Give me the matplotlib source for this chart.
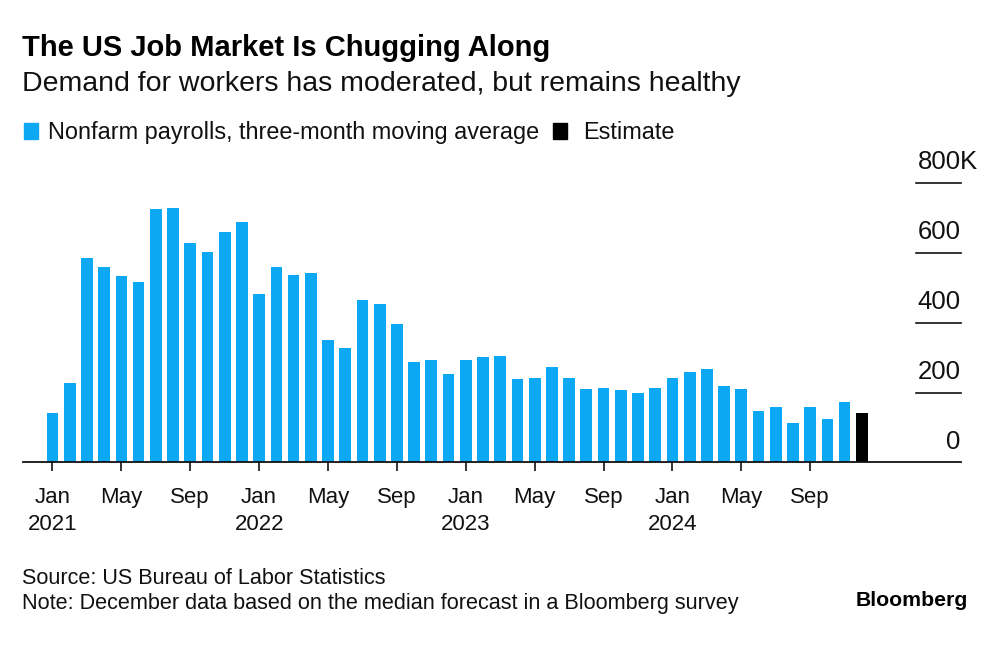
import matplotlib
matplotlib.use("Agg")
import matplotlib.pyplot as plt
from matplotlib.patches import Rectangle

plt.rcParams['font.family'] = ['Liberation Sans', 'DejaVu Sans']

# ---- data ----
years = [2021, 2022, 2023, 2024]
month_names = ["Jan", "Feb", "Mar", "Apr", "May", "Jun",
               "Jul", "Aug", "Sep", "Oct", "Nov", "Dec"]
payrolls_2021 = [141, 228, 586, 559, 534, 517, 724, 729, 629, 603, 658, 687]
payrolls_2022 = [483, 560, 537, 543, 351, 326, 466, 452, 397, 286, 292, 252]
payrolls_2023 = [292, 301, 305, 238, 242, 274, 242, 211, 213, 207, 198, 212]
payrolls_2024 = [242, 260, 267, 218, 211, 147, 159, 114, 159, 123, 173]
estimate_dec_2024 = [142]
y_ticks = [0, 200, 400, 600, 800]
tick_months = ["Jan", "May", "Sep"]

BLUE = "#0ca8f3"
BLACK = "#000000"

values = payrolls_2021 + payrolls_2022 + payrolls_2023 + payrolls_2024
labels = [(m, y) for y in years for m in month_names]
n_actual = len(values)
n_total = n_actual + len(estimate_dec_2024)

fig = plt.figure(figsize=(10, 6.48), dpi=100)
ax = fig.add_axes([0.0227, 0.2863, 0.938, 0.4317])

ax.bar(range(n_actual), values, width=0.68, color=BLUE, zorder=2)
ax.bar(range(n_actual, n_total), estimate_dec_2024, width=0.68, color=BLACK, zorder=2)

ax.set_xlim(-1.73, 52.74)
ax.set_ylim(0, 800)

for s in ["top", "right", "left"]:
    ax.spines[s].set_visible(False)
ax.spines["bottom"].set_linewidth(1.3)
ax.spines["bottom"].set_color("#111111")

# x ticks
xt, xl = [], []
for i, (m, y) in enumerate(labels[:n_total]):
    if m in tick_months:
        xt.append(i)
        xl.append(f"{m}\n{y}" if m == "Jan" else m)
ax.set_xticks(xt)
ax.set_xticklabels(xl, fontsize=16, linespacing=1.4, color="#111111")
ax.tick_params(axis="x", direction="out", length=6.5, width=1.2, pad=11, color="#111111")
ax.tick_params(axis="y", left=False, labelleft=False)

# y gridlines (short, on the right) and labels above them
for v in y_ticks:
    if v > 0:
        ax.axhline(v, xmin=0.952, xmax=1.0, color="#111111", lw=1.2, clip_on=False, zorder=1)
    ax.annotate(str(v), xy=(1.0, v), xycoords=("axes fraction", "data"),
                xytext=(0, 15), textcoords="offset points",
                ha="right", va="center", fontsize=18.5, color="#111111",
                annotation_clip=False)
    if v == y_ticks[-1]:
        ax.annotate("K", xy=(1.0, v), xycoords=("axes fraction", "data"),
                    xytext=(-0.5, 15), textcoords="offset points",
                    ha="left", va="center", fontsize=18.5, color="#111111",
                    annotation_clip=False)

# titles
fig.text(0.022, 0.926, "The US Job Market Is Chugging Along", fontsize=21,
         fontweight="bold", ha="left", va="center", color="#000000")
fig.text(0.022, 0.870, "Demand for workers has moderated, but remains healthy",
         fontsize=20.5, ha="left", va="center", color="#111111")

# legend
def sq(x0, color):
    fig.patches.append(Rectangle((x0, 0.7855), 0.014, 0.0247, transform=fig.transFigure,
                                 color=color, figure=fig))
sq(0.024, BLUE)
fig.text(0.048, 0.796, "Nonfarm payrolls, three-month moving average", fontsize=16.9,
         ha="left", va="center", color="#111111")
sq(0.553, BLACK)
fig.text(0.583, 0.796, "Estimate", fontsize=16.9, ha="left", va="center", color="#111111")

# footer
fig.text(0.022, 0.108, "Source: US Bureau of Labor Statistics", fontsize=15.6,
         ha="left", va="center", color="#111111")
fig.text(0.022, 0.068, "Note: December data based on the median forecast in a Bloomberg survey",
         fontsize=15.6, ha="left", va="center", color="#111111")
fig.text(0.968, 0.074, "Bloomberg", fontsize=15.3, fontweight="bold",
         ha="right", va="center", color="#000000")

fig.savefig("out.png", dpi=100, facecolor="white")
